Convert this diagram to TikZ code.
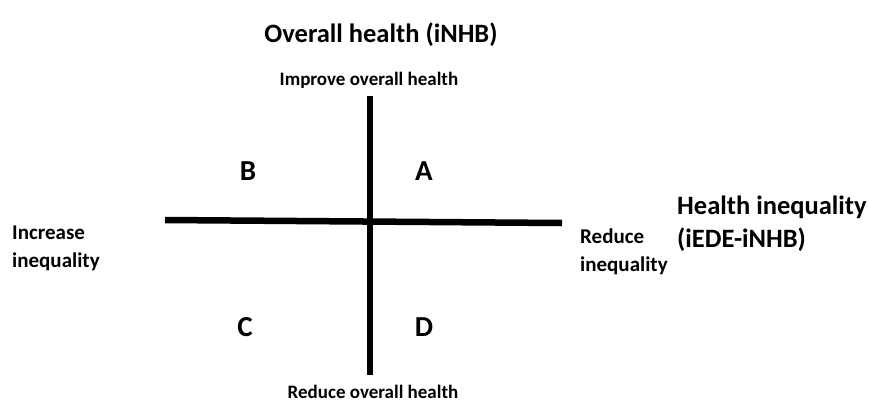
\documentclass[tikz,border=0pt]{standalone}
\usepackage{fontspec}
\setmainfont{Carlito}
\usetikzlibrary{positioning}
\tikzset{
  axis/.style={line width=6.5pt},
  small lbl/.style={font=\bfseries\fontsize{19}{27}\selectfont,inner sep=0pt},
  side lbl/.style={font=\bfseries\fontsize{21}{28}\selectfont,inner sep=0pt,anchor=base west,align=left},
  big lbl/.style={font=\bfseries\fontsize{26.5}{33}\selectfont,inner sep=0pt},
  quad/.style={font=\bfseries\fontsize{29}{32}\selectfont,inner sep=0pt},
}
\begin{document}
\begin{tikzpicture}[x=1pt,y=-1pt]
\useasboundingbox (0,0) rectangle (869,402);
% axes
\coordinate (top) at (370,96);
\coordinate (bottom) at (370,375);
\coordinate (left) at (165,220);
\coordinate (right) at (562,223);
\draw[axis] (top) -- (bottom);
\draw[axis] (left) -- (right);
% axis titles
\node[big lbl,anchor=base] (ytitle) at (381,42) {Overall health (iNHB)};
\node[big lbl,anchor=base west,align=left] (xtitle) at (677,247) {Health inequality\\(iEDE-iNHB)};
% axis ends
\node[small lbl,anchor=base] (improve) at (369,85) {Improve overall health};
\node[small lbl,anchor=base] (reduceh) at (373,398) {Reduce overall health};
\node[side lbl] (increase) at (12,267) {Increase\\inequality};
\node[side lbl] (reducei) at (580,271) {Reduce\\inequality};
% quadrants
\node[quad] (A) at (424,171) {A};
\node[quad] (B) at (248,171) {B};
\node[quad] (C) at (245,327) {C};
\node[quad] (D) at (424,327) {D};
\end{tikzpicture}
\end{document}
